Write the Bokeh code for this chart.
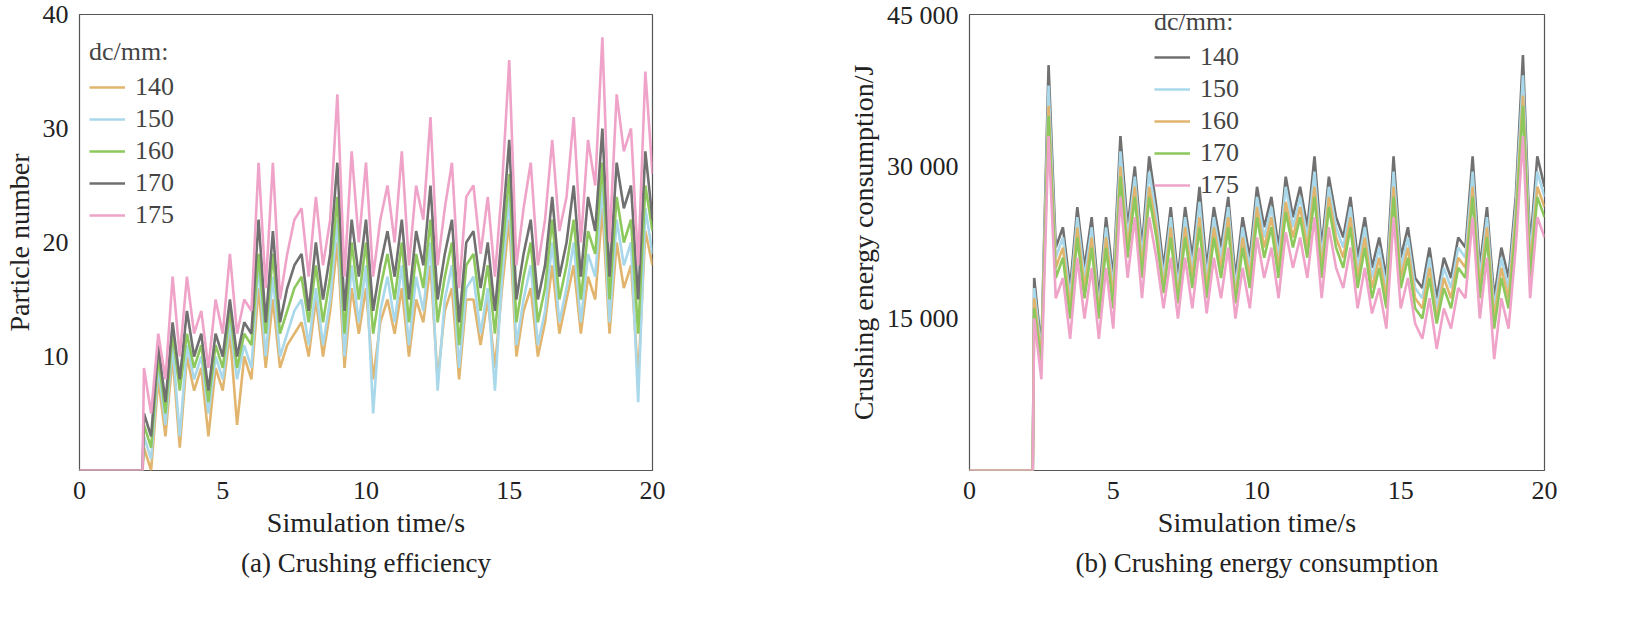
from bokeh.plotting import figure
from bokeh.layouts import row
from bokeh.models import Legend, LegendItem, Title, FixedTicker, Range1d
from bokeh.embed import file_html
from bokeh.resources import INLINE

t = [0, 2.2] + [2.25 + 0.25 * i for i in range(72)]

# (a) particle number
pa_175 = [0, 0, 9,5,12,8,17,10,17,12,14,9,15,12, 19,12,15,14,27,16,27,15,19,22,23,17,
          24,18,22,33,17,28,20,27,17,22,25,20, 28,18,25,22,31,18,23,27,16,24,25,19,
          24,17,25,36,18,23,27,18,22,29,21,24, 31,20,29,25,38,20,33,28,30,18,35,26]
pa_170 = [0, 0, 5,3,11,6,13,8,14,10,12,7,12,10, 15,10,13,12,22,13,21,13,16,18,19,14,
          20,15,19,27,14,22,17,22,14,18,21,17, 22,15,21,18,25,15,19,22,13,20,21,16,
          20,14,21,29,15,19,22,15,18,24,17,20, 25,17,24,21,30,17,27,23,25,15,28,22]
pa_160 = [0, 0, 4,2,10,5,12,7,12,9,11,6,11,9, 14,9,12,11,19,12,19,12,14,16,17,13,
          18,13,17,24,12,20,15,20,12,16,19,15, 20,13,19,16,22,13,17,20,11,18,19,14,
          18,12,19,26,13,17,20,13,16,22,15,18, 22,15,21,19,27,15,24,20,22,12,25,21]
pa_150 = [0, 0, 3,1,9,4,11,3,11,8,10,5,10,8, 13,8,11,9,18,10,17,10,12,14,15,11,
          16,11,15,22,10,18,13,18,5,14,17,13, 18,11,17,14,20,7,15,18,9,16,17,12,
          16,7,17,24,11,15,18,11,14,20,13,16, 20,13,19,17,25,13,22,18,20,6,23,19]
pa_140 = [0, 0, 2,0,8,3,10,2,10,7,9,3,9,7, 12,4,10,8,16,9,15,9,11,12,13,10,
          15,10,14,20,9,16,12,16,8,13,15,12, 16,10,15,13,18,8,14,16,8,15,15,11,
          15,9,16,22,10,14,16,10,13,18,12,15, 18,12,17,15,23,12,20,16,18,8,21,18]

# (b) energy
eb_140 = [0, 0, 19000,12000,40000,22000,24000,18000,26000,20000,25000,17000,25000,19000,
          33000,24000,30000,22000,31000,26000,20000,26000,19000,26000,21000,28000,
          20000,26000,22000,27000,19000,25000,21000,28000,24000,27000,22000,29000,
          25000,28000,24000,31000,22000,29000,25000,23000,27000,21000,25000,20000,
          23000,19000,31000,21000,24000,19000,18000,22000,17000,21000,19000,23000,
          22000,31000,20000,26000,17000,22000,19000,27000,41000,22000,31000,28000]
eb_150 = [0, 0, 18000,11500,38000,21000,23000,17000,25000,19000,24000,16000,24000,18000,
          31500,23000,29000,21000,29500,25000,19000,25000,18000,25000,20000,26500,
          19000,25000,21000,26000,18000,24000,20000,27000,23000,26000,21000,28000,
          24000,27000,23000,29500,21000,28000,24000,22000,26000,20000,24000,19000,
          22000,18000,29500,20000,23000,18000,17000,21000,16000,20000,18000,22000,
          21000,29500,19000,25000,16000,21000,18000,26000,39000,21000,29500,27000]
eb_160 = [0, 0, 17000,11000,36000,20000,22000,16000,24000,18000,23000,15500,23000,17000,
          30000,22000,28000,20000,28000,24000,18000,24000,17000,24000,19000,25000,
          18000,24000,20000,25000,17000,23000,19000,26000,22000,25000,20000,26500,
          23000,26000,22000,28000,20000,27000,23000,21000,25000,19000,23000,18000,
          21000,17000,28000,19000,22000,17000,16000,20000,15000,19000,17000,21000,
          20000,28000,18000,24000,15000,20000,17000,25000,37000,20000,28000,26000]
eb_170 = [0, 0, 16000,10500,35000,19000,21000,15000,23000,17000,22000,15000,22000,16000,
          29000,21000,27000,19000,27000,23000,17500,23000,16500,23000,18000,24000,
          17000,23000,19000,24000,16500,22000,18000,25000,21000,24000,19000,25500,
          22000,25000,21000,27000,19000,26000,22000,20000,24000,18000,22000,17000,
          20000,16000,27000,18000,21000,16000,15000,19000,14500,18000,16000,20000,
          19000,27000,17000,23000,14000,19000,16000,24000,36000,19000,27000,25000]
eb_175 = [0, 0, 15000,9000,33000,17000,19000,13000,21000,15000,20000,13000,20000,14000,
          27000,19000,25000,17000,25000,21000,16000,21000,15000,21000,16000,22000,
          15500,21000,17000,22000,15000,20000,16000,23000,19000,22000,17000,23500,
          20000,23000,19000,25000,17000,24000,20000,18000,22000,16000,20000,15500,
          18000,14000,25000,16000,19000,14500,13000,17000,12000,16000,14000,18000,
          17000,25000,15000,21000,11000,17000,14000,22000,33000,17000,25000,23000]

labels = ["140", "150", "160", "170", "175"]
FONT = "Liberation Serif"
TAN, BLUE, GREEN, GRAY, PINK = "#E2B56F", "#A8D8EA", "#8DC85C", "#707070", "#EFA3C8"


def make_fig(w, left, right, ymax, yticks, ylabel, caption):
    p = figure(width=w, height=610, output_backend="svg", toolbar_location=None,
               x_range=Range1d(0, 20), y_range=Range1d(0, ymax),
               min_border_left=left, min_border_right=right, min_border_top=14,
               min_border_bottom=140)
    p.grid.visible = False
    p.outline_line_color = "#555555"
    p.outline_line_width = 1.2
    for ax in (p.xaxis[0], p.yaxis[0]):
        ax.major_label_text_font = FONT
        ax.major_label_text_font_size = "26px"
        ax.major_label_text_color = "#222222"
        ax.axis_label_text_font = FONT
        ax.axis_label_text_font_size = "28px"
        ax.axis_label_text_font_style = "normal"
        ax.axis_label_text_color = "#222222"
        ax.axis_line_color = None
        ax.major_tick_line_color = None
        ax.minor_tick_line_color = None
    p.xaxis.ticker = FixedTicker(ticks=[0, 5, 10, 15, 20])
    p.yaxis.ticker = FixedTicker(ticks=yticks)
    p.yaxis.major_label_overrides = {v: (f"{v:,}".replace(",", " ")) for v in yticks}
    p.xaxis.axis_label = "Simulation time/s"
    p.yaxis.axis_label = ylabel
    p.add_layout(Title(text=caption, text_font=FONT, text_font_size="27px",
                       text_font_style="normal", align="center", text_color="#222222"), "below")
    return p


pa = make_fig(800, 77, 148, 40, [10, 20, 30, 40], "Particle number", "(a) Crushing efficiency")
items = []
for ys, lab, c in [(pa_140, "140", TAN), (pa_150, "150", BLUE), (pa_160, "160", GREEN),
                   (pa_170, "170", GRAY), (pa_175, "175", PINK)]:
    r = pa.line(t, ys, line_color=c, line_width=2.6)
    items.append(LegendItem(label=lab, renderers=[r]))
leg = Legend(items=items, location=(10, 240), title="dc/mm:")
pa.add_layout(leg)

pb = make_fig(818, 169, 74, 45000, [15000, 30000, 45000],
              "Crushing energy consumption/J", "(b) Crushing energy consumption")
rs = {}
for ys, lab, c in [(eb_140, "140", GRAY), (eb_150, "150", BLUE), (eb_160, "160", TAN),
                   (eb_170, "170", GREEN), (eb_175, "175", PINK)]:
    rs[lab] = pb.line(t, ys, line_color=c, line_width=2.6)
items = [LegendItem(label=l, renderers=[rs[l]]) for l in labels]
leg2 = Legend(items=items, location=(185, 270), title="dc/mm:")
pb.add_layout(leg2)

for lg in (leg, leg2):
    lg.background_fill_alpha = 0
    lg.border_line_color = None
    lg.label_text_font = FONT
    lg.label_text_font_size = "26px"
    lg.title_text_font = FONT
    lg.title_text_font_size = "26px"
    lg.title_text_font_style = "normal"
    lg.glyph_width = 36
    lg.label_height = 24
    lg.glyph_height = 24
    lg.spacing = 2
    lg.padding = 4
    lg.label_standoff = 10

lay = row(pa, pb, spacing=0)
open("out.html", "w").write(file_html(lay, INLINE))
